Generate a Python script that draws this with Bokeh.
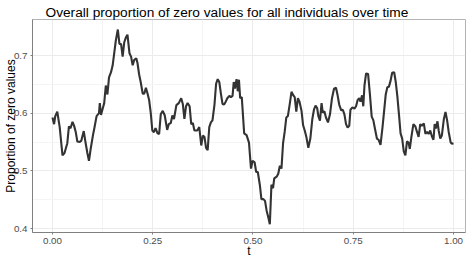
from bokeh.plotting import figure
from bokeh.models import FixedTicker, Range1d
from bokeh.embed import file_html
from bokeh.resources import INLINE

t = [0.000,0.004,0.007,0.012,0.018,0.025,0.030,0.037,0.041,0.045,0.050,0.054,0.058,0.062,0.068,0.072,0.078,0.082,0.087,0.091,
     0.095,0.101,0.105,0.110,0.116,0.118,0.121,0.126,0.129,0.133,0.137,0.141,0.146,0.150,0.154,0.158,0.163,0.167,0.171,0.175,
     0.179,0.183,0.187,0.192,0.196,0.200,0.204,0.209,0.212,0.216,0.220,0.225,0.229,0.233,0.237,0.241,0.245,0.249,0.253,0.257,
     0.262,0.266,0.270,0.275,0.280,0.286,0.290,0.295,0.299,0.303,0.309,0.315,0.321,0.325,0.329,0.333,0.337,0.342,0.346,0.350,
     0.354,0.361,0.366,0.371,0.375,0.379,0.383,0.387,0.391,0.395,0.399,0.404,0.408,0.412,0.416,0.420,0.424,0.428,0.432,0.436,
     0.441,0.445,0.449,0.452,0.455,0.459,0.462,0.465,0.468,0.472,0.478,0.484,0.490,0.495,0.499,0.504,0.508,0.512,0.517,0.521,
     0.526,0.530,0.534,0.538,0.542,0.546,0.550,0.553,0.559,0.563,0.567,0.571,0.575,0.579,0.583,0.587,0.592,0.596,0.600,0.604,
     0.608,0.612,0.616,0.621,0.625,0.629,0.633,0.638,0.643,0.648,0.652,0.656,0.660,0.663,0.667,0.671,0.674,0.678,0.682,0.687,
     0.692,0.697,0.702,0.707,0.711,0.715,0.720,0.724,0.728,0.732,0.736,0.740,0.743,0.748,0.753,0.757,0.761,0.765,0.768,0.772,
     0.775,0.778,0.782,0.787,0.792,0.796,0.800,0.805,0.809,0.813,0.818,0.823,0.827,0.831,0.835,0.839,0.843,0.847,0.852,0.856,
     0.860,0.864,0.868,0.872,0.876,0.880,0.884,0.888,0.891,0.895,0.900,0.905,0.909,0.913,0.917,0.921,0.926,0.930,0.934,0.938,
     0.942,0.946,0.950,0.953,0.956,0.960,0.963,0.967,0.971,0.976,0.980,0.984,0.988,0.993,0.996,1.000]

prop_zero = [0.5925,0.581,0.595,0.6025,0.576,0.527,0.531,0.548,0.577,0.574,0.585,0.578,0.5675,0.551,0.550,0.5525,0.569,0.551,0.531,0.5175,
     0.537,0.562,0.576,0.595,0.600,0.6175,0.597,0.610,0.6175,0.648,0.6325,0.662,0.671,0.6825,0.704,0.726,0.745,0.720,0.720,0.698,
     0.723,0.731,0.736,0.704,0.698,0.683,0.6925,0.695,0.687,0.6675,0.654,0.634,0.634,0.644,0.634,0.623,0.601,0.570,0.567,0.574,
     0.565,0.564,0.598,0.604,0.596,0.571,0.581,0.583,0.596,0.590,0.614,0.6175,0.626,0.616,0.590,0.612,0.6175,0.612,0.581,0.583,
     0.570,0.570,0.576,0.544,0.561,0.559,0.540,0.536,0.576,0.584,0.5875,0.615,0.651,0.659,0.654,0.634,0.616,0.615,0.620,0.626,
     0.630,0.628,0.630,0.654,0.6425,0.659,0.638,0.658,0.626,0.628,0.565,0.562,0.549,0.504,0.5175,0.515,0.498,0.498,0.476,0.451,
     0.451,0.448,0.431,0.420,0.4075,0.476,0.470,0.487,0.490,0.495,0.509,0.504,0.548,0.5675,0.5925,0.595,0.6175,0.637,0.6315,0.628,
     0.6025,0.626,0.620,0.604,0.579,0.570,0.559,0.540,0.556,0.590,0.606,0.613,0.609,0.595,0.587,0.6175,0.601,0.6035,0.5925,0.584,
     0.598,0.626,0.6425,0.644,0.631,0.615,0.605,0.606,0.598,0.581,0.575,0.578,0.606,0.610,0.608,0.612,0.623,0.626,0.620,0.631,
     0.612,0.648,0.669,0.668,0.629,0.594,0.588,0.570,0.556,0.554,0.545,0.576,0.604,0.6325,0.645,0.646,0.656,0.670,0.671,0.654,
     0.629,0.598,0.565,0.556,0.534,0.527,0.551,0.549,0.538,0.559,0.581,0.577,0.5675,0.559,0.581,0.578,0.5825,0.564,0.5675,0.564,
     0.570,0.560,0.554,0.581,0.5735,0.586,0.570,0.556,0.5615,0.590,0.602,0.588,0.5675,0.549,0.547,0.548]

x_ticks = [0.0, 0.25, 0.5, 0.75, 1.0]
x_minor = [0.125, 0.375, 0.625, 0.875]
y_ticks = [0.4, 0.5, 0.6, 0.7]
y_minor = [0.45, 0.55, 0.65]

title_text = "Overall proportion of zero values for all individuals over time"
x_label = "t"
y_label = "Proportion of zero values"

FONT = "Liberation Sans"
X0, X1 = -0.0498, 1.0299
Y0, Y1 = 0.3932, 0.7624

p = figure(width=468, height=260, output_backend="svg", toolbar_location=None,
           x_range=Range1d(X0, X1), y_range=Range1d(Y0, Y1), title=title_text,
           min_border_left=31, min_border_right=3, min_border_top=19, min_border_bottom=22)

p.title.text_font = FONT
p.title.text_font_size = "13.7px"
p.title.text_font_style = "normal"
p.title.text_color = "#000000"
p.title.align = "left"
p.title.vertical_align = "top"
p.title.offset = 13
p.title.standoff = -5

p.line(t, prop_zero, line_color="#333333", line_width=2.1)

p.background_fill_color = "white"
p.border_fill_color = "white"
p.outline_line_color = "#b3b3b3"
p.outline_line_width = 1

for ax in (p.xaxis[0], p.yaxis[0]):
    ax.axis_line_color = "#808080"
    ax.axis_line_width = 1
    ax.major_tick_line_color = "#808080"
    ax.major_tick_out = 2
    ax.major_tick_in = 0
    ax.minor_tick_line_color = None
    ax.major_label_text_font = FONT
    ax.major_label_text_font_size = "9.8px"
    ax.major_label_text_color = "#4d4d4d"
    ax.major_label_standoff = 1
    ax.axis_label_text_font = FONT
    ax.axis_label_text_font_size = "12px"
    ax.axis_label_text_font_style = "normal"
    ax.axis_label_text_color = "#000000"

p.xaxis.axis_label_standoff = -3
p.xaxis.axis_label_text_line_height = 1.0
p.yaxis.axis_label_standoff = -7
p.xaxis.axis_label = x_label
p.yaxis.axis_label = y_label
p.xaxis.ticker = FixedTicker(ticks=x_ticks, minor_ticks=x_minor)
p.yaxis.ticker = FixedTicker(ticks=y_ticks, minor_ticks=y_minor)
p.xaxis.major_label_overrides = {0.0: "0.00", 0.25: "0.25", 0.5: "0.50", 0.75: "0.75", 1.0: "1.00"}
p.yaxis.major_label_overrides = {0.4: "0.4", 0.5: "0.5", 0.6: "0.6", 0.7: "0.7"}

for g in (p.xgrid[0], p.ygrid[0]):
    g.grid_line_color = "#ebebeb"
    g.grid_line_width = 1
    g.minor_grid_line_color = "#f4f4f4"
    g.minor_grid_line_width = 1

open("out.html", "w").write(file_html(p, INLINE))
